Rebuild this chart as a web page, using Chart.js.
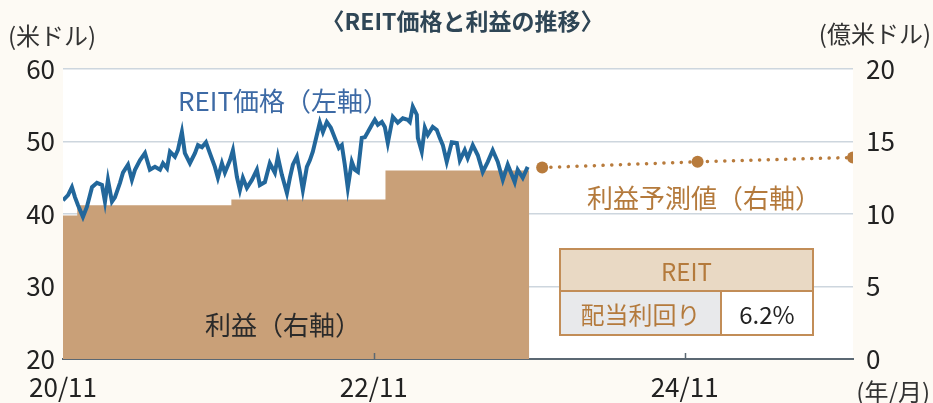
<!DOCTYPE html>
<html>
<head>
<meta charset="utf-8">
<script src="https://cdn.jsdelivr.net/npm/chart.js@4/dist/chart.umd.min.js"></script>
<style>
  body { margin: 0; background: #FDFAF4; }
  #wrap { position: relative; width: 933px; height: 403px; background: #FDFAF4;
          font-family: "Noto Sans CJK JP", "Noto Sans", sans-serif; }
  .lbl { position: absolute; white-space: nowrap; line-height: 1; }
  #box { position: absolute; left: 559px; top: 248px; width: 255px; height: 88px;
         border: 2px solid #C28D57; box-sizing: border-box; display: grid;
         grid-template-columns: 161px 1fr; grid-template-rows: 42px 1fr; }
  #box div { display: flex; align-items: center; justify-content: center; font-size: 24px; }
  .head { grid-column: 1 / 3; background: #E9D9C4; color: #B47A3C; border-bottom: 2px solid #C28D57; }
  .key { background: #E8E9EB; color: #B47A3C; border-right: 2px solid #C28D57; }
  .val { background: #fff; color: #222; }
</style>
</head>
<body>
<div id="wrap">
  <canvas id="reitChart"></canvas>
  <div class="lbl" style="left:0;width:925px;top:9px;text-align:center;font-size:23px;font-weight:bold;color:#2F4656;">〈REIT価格と利益の推移〉</div>
  <div class="lbl" style="left:8px;top:23px;font-size:24px;color:#333;">(米ドル)</div>
  <div class="lbl" style="right:2px;top:21px;font-size:24px;color:#333;">(億米ドル)</div>
  <div class="lbl" style="right:3px;top:379px;font-size:24px;color:#333;">(年/月)</div>
  <div class="lbl" style="left:178px;top:87px;font-size:26px;color:#3D6AA5;">REIT価格（左軸）</div>
  <div class="lbl" style="left:587px;top:184px;font-size:26px;color:#B47A3C;">利益予測値（右軸）</div>
  <div class="lbl" style="left:205px;top:311px;font-size:26px;color:#2A2A2A;">利益（右軸）</div>
  <div id="box">
    <div class="head">REIT</div>
    <div class="key">配当利回り</div>
    <div class="val">6.2%</div>
  </div>
</div>
<script>
// x values are months counted from 2020/11
const tickMonths = [0, 24, 48];
const tickLabels = ['20/11', '22/11', '24/11'];

const priceMonths = [0, 0.39, 0.69, 0.93, 1.16, 1.54, 1.85, 2.24, 2.62, 3.01, 3.24, 3.47, 3.78, 4.01,
  4.40, 4.63, 5.02, 5.32, 5.56, 5.94, 6.33, 6.71, 7.10, 7.49, 7.72, 8.03, 8.26, 8.64, 8.87,
  9.18, 9.41, 9.80, 10.19, 10.42, 10.73, 11.04, 11.34, 11.73, 11.96, 12.27, 12.50, 12.89, 13.12,
  13.43, 13.66, 13.89, 14.20, 14.59, 14.97, 15.20, 15.59, 15.97, 16.36, 16.59, 16.90, 17.29,
  17.52, 17.75, 18.06, 18.29, 18.52, 18.83, 19.06, 19.29, 19.60, 19.83, 20.07, 20.37, 20.68,
  20.99, 21.30, 21.53, 21.76, 21.99, 22.30, 22.53, 22.77, 23.07, 23.31, 23.54, 23.85, 24.08,
  24.31, 24.62, 24.85, 25.08, 25.47, 25.85, 26.24, 26.62, 26.78, 27.01, 27.32, 27.40, 27.70,
  27.94, 28.17, 28.55, 28.86, 29.09, 29.33, 29.63, 30.02, 30.41, 30.64, 31.02, 31.25, 31.64,
  32.03, 32.41, 32.80, 33.18, 33.57, 33.96, 34.34, 34.88, 35.11, 35.50, 35.88];
const priceValues = [41.9, 42.6, 43.7, 42.3, 41.2, 39.6, 41.0, 43.7, 44.3, 44.0, 41.7, 44.7, 41.7, 42.3,
  44.3, 45.7, 46.8, 44.7, 46.1, 47.4, 48.4, 46.1, 46.5, 46.1, 47.0, 46.3, 48.6, 47.9, 48.8,
  51.3, 48.4, 47.0, 48.4, 49.5, 49.2, 49.9, 48.4, 46.5, 45.0, 47.0, 45.7, 47.4, 48.8,
  45.1, 43.3, 45.0, 43.6, 44.7, 46.1, 44.0, 44.4, 47.0, 45.7, 47.9, 45.4, 42.9,
  45.0, 46.8, 47.9, 45.8, 43.3, 46.5, 47.4, 48.6, 50.9, 52.6, 51.3, 52.7, 51.9,
  50.5, 49.1, 49.5, 46.8, 43.6, 47.2, 46.1, 45.8, 50.5, 50.6, 51.3, 52.3, 53.0,
  52.3, 52.7, 52.0, 49.8, 53.4, 52.6, 53.2, 53.0, 52.7, 54.8, 53.7, 50.5, 48.6,
  51.9, 50.9, 52.0, 51.6, 50.5, 49.5, 47.2, 49.9, 49.8, 47.4, 48.8, 47.7, 49.5,
  48.1, 45.8, 47.2, 48.8, 47.2, 44.7, 46.8, 44.4, 46.1, 45.0, 46.5];

const profitMonths = [0, 1.1, 13.0, 24.9, 36.0];
const profitValues = [9.9, 10.6, 11.0, 13.0, 13.0];

const forecastMonths = [37, 49, 61];
const forecastValues = [13.2, 13.6, 13.9];

function toPoints(xs, ys) {
  return xs.map((x, i) => ({ x: x, y: ys[i] }));
}

const plotBg = {
  id: 'plotBg',
  beforeDraw(c) {
    const a = c.chartArea, ctx = c.ctx;
    ctx.save();
    ctx.fillStyle = '#ffffff';
    ctx.fillRect(a.left, a.top, a.right - a.left, a.bottom - a.top);
    ctx.restore();
  },
  afterDatasetsDraw(c) {
    const sx = c.scales.x, a = c.chartArea, ctx = c.ctx;
    ctx.save();
    ctx.strokeStyle = '#5B6873';
    ctx.lineWidth = 1.5;
    tickMonths.slice(1).forEach(m => {
      const px = Math.round(sx.getPixelForValue(m)) + 0.5;
      ctx.beginPath();
      ctx.moveTo(px, a.bottom);
      ctx.lineTo(px, a.bottom - 6);
      ctx.stroke();
    });
    ctx.restore();
  }
};

const tickFont = { family: '"Noto Sans CJK JP", "Noto Sans", sans-serif', size: 26 };

new Chart(document.getElementById('reitChart'), {
  type: 'line',
  data: {
    datasets: [
      {
        label: 'REIT価格',
        data: toPoints(priceMonths, priceValues),
        borderColor: '#22679B',
        borderWidth: 4,
        pointRadius: 0,
        tension: 0,
        yAxisID: 'y',
        order: 0
      },
      {
        label: '利益予測値',
        data: toPoints(forecastMonths, forecastValues),
        borderColor: '#B87B3C',
        backgroundColor: '#B87B3C',
        borderWidth: 3.5,
        borderDash: [0.1, 8.6],
        borderCapStyle: 'round',
        pointRadius: 6,
        pointBorderWidth: 0,
        yAxisID: 'y1',
        order: 1
      },
      {
        label: '利益',
        data: toPoints(profitMonths, profitValues),
        stepped: 'before',
        fill: 'origin',
        backgroundColor: '#C9A078',
        borderWidth: 0,
        pointRadius: 0,
        yAxisID: 'y1',
        order: 2
      }
    ]
  },
  options: {
    responsive: true,
    maintainAspectRatio: false,
    animation: false,
    layout: { padding: { top: 69, left: 0, right: 0, bottom: 0 } },
    plugins: { legend: { display: false }, tooltip: { enabled: false } },
    scales: {
      x: {
        type: 'linear',
        min: 0,
        max: 61,
        afterBuildTicks: s => { s.ticks = tickMonths.map(v => ({ value: v })); },
        afterFit: s => { s.height = 44; },
        grid: { display: false, drawTicks: false },
        border: { display: true, color: '#5B6873', width: 2 },
        ticks: {
          padding: 13,
          color: '#222',
          font: tickFont,
          maxRotation: 0,
          callback: v => tickLabels[tickMonths.indexOf(v)]
        }
      },
      y: {
        position: 'left',
        min: 20,
        max: 60,
        afterFit: s => { s.width = 63; },
        grid: { color: '#CDD6DE', lineWidth: 1.5, drawTicks: false },
        border: { display: false },
        ticks: { stepSize: 10, padding: 8, color: '#222', font: tickFont }
      },
      y1: {
        position: 'right',
        min: 0,
        max: 20,
        afterFit: s => { s.width = 80; },
        grid: { display: false, drawTicks: false },
        border: { display: false },
        ticks: { stepSize: 5, padding: 13, color: '#222', font: tickFont }
      }
    }
  },
  plugins: [plotBg]
});
</script>
</body>
</html>
